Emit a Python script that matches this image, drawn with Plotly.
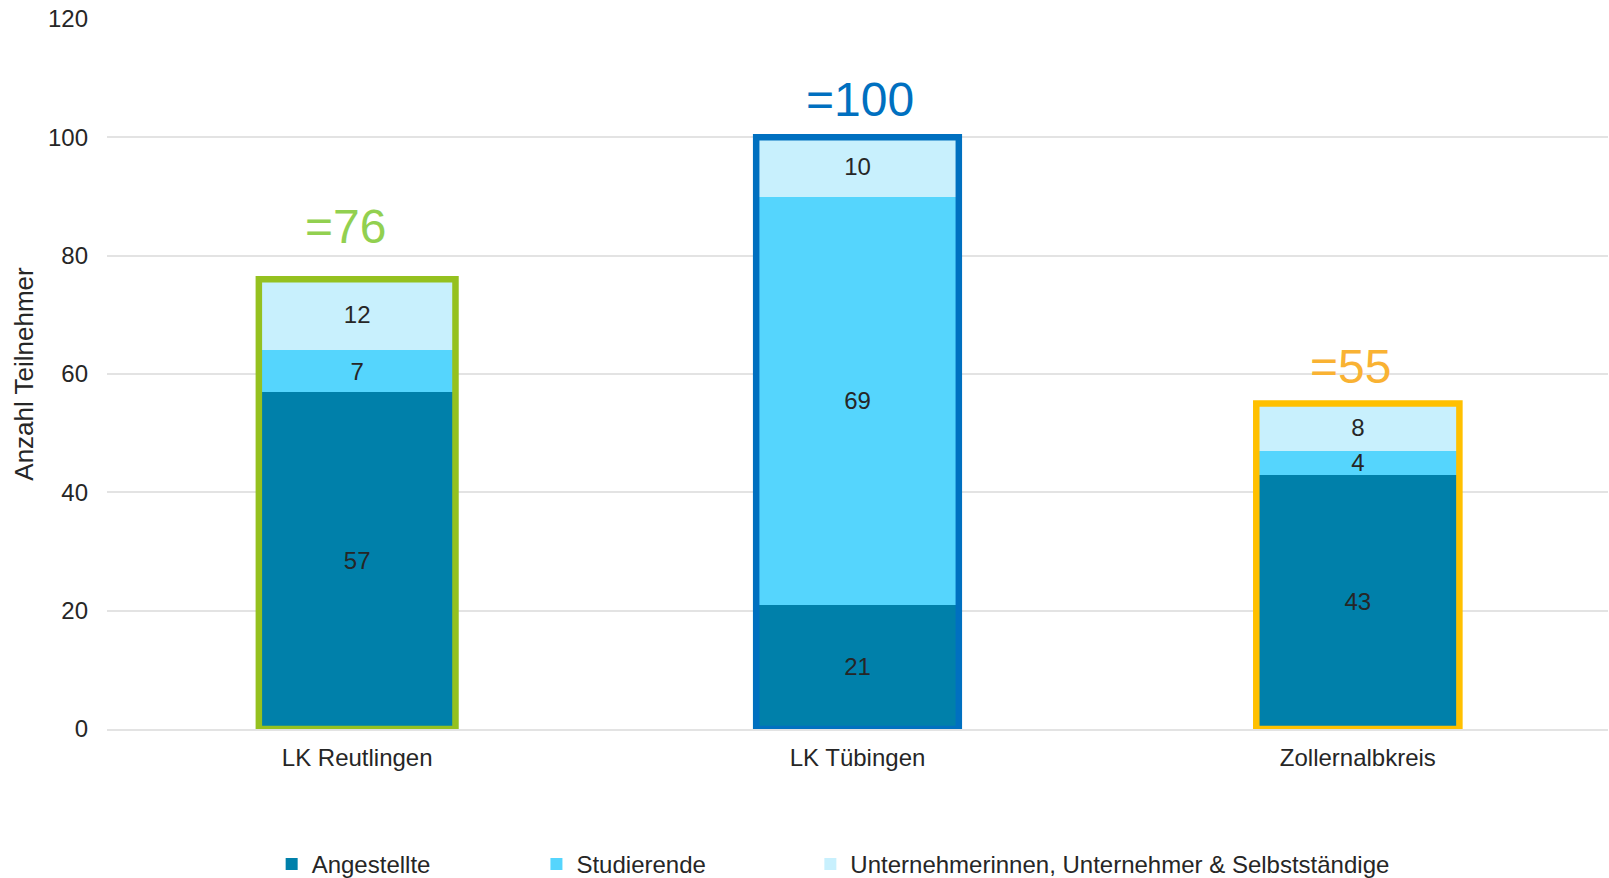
import plotly.graph_objects as go

# Participants per district, split by group
districts = ["LK Reutlingen", "LK Tübingen", "Zollernalbkreis"]
angestellte = [57, 21, 43]
studierende = [7, 69, 4]
unternehmer = [12, 10, 8]
totals = [76, 100, 55]

series_names = ["Angestellte", "Studierende",
                "Unternehmerinnen, Unternehmer & Selbstständige"]
series_colors = ["#0080AA", "#55D5FD", "#C8F0FD"]

frame_colors = ["#95C11F", "#0070C0", "#FFC000"]
total_colors = ["#92D050", "#0070C0", "#F9B233"]
total_lift = [24, 9, 9]
total_nudge = [-12, 2, -7]
bar_widths = [0.393, 0.405, 0.406]

# one legend box per series, spread along the bottom
legend_ids = ["legend", "legend2", "legend3"]
legend_x = [0.1097, 0.2861, 0.4686]

FONT = "Liberation Sans, Arial, sans-serif"
TEXT = "#262626"

fig = go.Figure()
for name, vals, col, lg in zip(series_names, [angestellte, studierende, unternehmer],
                               series_colors, legend_ids):
    fig.add_trace(go.Bar(
        x=districts, y=vals, name=name, legend=lg,
        marker=dict(color=col, line=dict(width=0)),
        text=[str(v) for v in vals],
        textposition="inside", insidetextanchor="middle", textangle=0,
        textfont=dict(family=FONT, size=24, color=TEXT),
        constraintext="none",
        width=bar_widths,
    ))

# Coloured frame around each stack plus the total above it
for i, (tot, fc, tc, lift, nudge, w) in enumerate(
        zip(totals, frame_colors, total_colors, total_lift, total_nudge, bar_widths)):
    fig.add_shape(type="rect", xref="x", yref="y",
                  x0=i - w / 2, x1=i + w / 2, y0=0, y1=tot,
                  line=dict(color=fc, width=6.5), fillcolor="rgba(0,0,0,0)", layer="above")
    fig.add_annotation(x=districts[i], y=tot, text=f"={tot}", showarrow=False,
                       yanchor="bottom", yshift=lift, xshift=nudge,
                       font=dict(family=FONT, size=48, color=tc))

legend_style = dict(orientation="h", xanchor="left", y=-0.1907, yanchor="middle",
                    font=dict(family=FONT, size=24, color=TEXT), bgcolor="rgba(0,0,0,0)")

fig.update_layout(
    barmode="stack",
    width=1609, height=878,
    margin=dict(l=107, r=1, t=19, b=149, autoexpand=False),
    plot_bgcolor="white", paper_bgcolor="white",
    font=dict(family=FONT, color=TEXT, size=24),
    showlegend=True,
    legend=dict(x=legend_x[0], **legend_style),
    legend2=dict(x=legend_x[1], **legend_style),
    legend3=dict(x=legend_x[2], **legend_style),
)
fig.update_yaxes(range=[0, 120], dtick=20, showgrid=True, gridcolor="#E3E3E3", gridwidth=2,
                 zeroline=False, showline=False,
                 tickfont=dict(family=FONT, size=24, color=TEXT), ticklabelstandoff=18,
                 title=dict(text="Anzahl Teilnehmer", font=dict(family=FONT, size=26, color=TEXT),
                            standoff=6))
fig.update_xaxes(showline=True, linecolor="#E3E3E3", linewidth=2, showgrid=False,
                 tickfont=dict(family=FONT, size=24, color=TEXT), ticklabelstandoff=6)

fig.write_html("out.html")
